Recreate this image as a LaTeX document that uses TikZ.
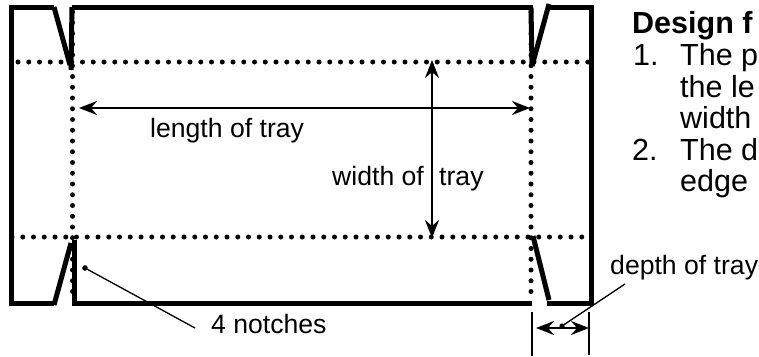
\documentclass[tikz,border=0pt]{standalone}
\usepackage{fontspec}
\setmainfont{Liberation Sans}
\usetikzlibrary{arrows.meta}
\tikzset{
  wall/.style={line width=5pt,line cap=butt,line join=miter},
  fold/.style={line width=5pt,line cap=round,dash pattern=on 0pt off 10.75pt},
  dim/.style={line width=2pt,{Stealth[length=18pt,width=14pt,inset=6pt]}-{Stealth[length=18pt,width=14pt,inset=6pt]}},
  lead/.style={line width=1.3pt},
  tick/.style={line width=1.5pt},
  lbl/.style={inner sep=0pt,font=\fontsize{26.6}{30}\selectfont,anchor=base west},
  head/.style={inner sep=0pt,font=\fontsize{30.5}{34}\selectfont,anchor=base west}
}
\begin{document}
\begin{tikzpicture}[x=1pt,y=-1pt]
\useasboundingbox (0,0) rectangle (759,356);
% coordinates
\coordinate (tl) at (11,7); \coordinate (tr) at (591,7);
\coordinate (bl) at (11,303); \coordinate (br) at (591,303);
\coordinate (n1a) at (54,7); \coordinate (n1b) at (70,65);
\coordinate (n1c) at (72,7); \coordinate (n1d) at (71,70);
\coordinate (n2a) at (533,7); \coordinate (n2b) at (548,7);
\coordinate (n2c) at (549,4); \coordinate (n2d) at (532,66);
\coordinate (n2e) at (531,8);
\coordinate (n3a) at (54,303); \coordinate (n3b) at (54,305); \coordinate (n3c) at (71,243);
\coordinate (n3d) at (74,303); \coordinate (n3e) at (74,240);
\coordinate (n4a) at (532,303); \coordinate (n4b) at (547,303);
\coordinate (n4c) at (549,300); \coordinate (n4d) at (533,236);
% walls
\draw[wall] (n1a) -- (tl) -- (bl) -- (n3a);
\draw[wall] (n1a) -- (n1b);
\draw[wall] (n1c) -- (n1d);
\draw[wall] (n1c) -- (n2a);
\draw[wall] (n2e) -- (n2d);
\draw[wall] (n2c) -- (n2d);
\draw[wall] (n2b) -- (tr) -- (br) -- (n4b);
\draw[wall] (n3b) -- (n3c);
\draw[wall] (n3e) -- (n3d) -- (n4a);
\draw[wall] (n4c) -- (n4d);
% fold lines
\coordinate (f1a) at (18,62); \coordinate (f1b) at (590,62);
\coordinate (f2a) at (12,237); \coordinate (f2b) at (590,237);
\coordinate (f3a) at (72.5,12); \coordinate (f3b) at (72.5,300);
\coordinate (f4a) at (531,12); \coordinate (f4b) at (531,300);
\draw[fold] (f1a) -- (f1b);
\draw[fold] (f2a) -- (f2b);
\draw[fold] (f3a) -- (f3b);
\draw[fold] (f4a) -- (f4b);
% dimensions
\coordinate (la) at (79,108); \coordinate (lb) at (530,108);
\coordinate (wa) at (432,60); \coordinate (wb) at (432,238);
\coordinate (da) at (536,328); \coordinate (db) at (589,328);
\draw[dim] (la) -- (lb);
\draw[dim] (wa) -- (wb);
\draw[dim] (da) -- (db);
\coordinate (t1a) at (532,312); \coordinate (t1b) at (532,356);
\coordinate (t2a) at (589,312); \coordinate (t2b) at (589,355);
\draw[tick] (t1a) -- (t1b);
\draw[tick] (t2a) -- (t2b);
% labels
\node[lbl] (ltray) at (150,137) {length of tray};
\node[lbl] (wof) at (332,185) {width of};
\node[lbl] (wtray) at (439,185) {tray};
\node[lbl] (notch) at (211,333) {4 notches};
\node[lbl] (depth) at (610,274) {depth of tray};
% leaders
\coordinate (l1a) at (85,268); \coordinate (l1b) at (195,328);
\coordinate (l2a) at (625,284); \coordinate (l2b) at (562,326);
\draw[lead] (l1a) -- (l1b);
\draw[lead] (l2a) -- (l2b);
\fill (l1a) circle (2.8pt);
\fill (l2b) circle (2.6pt);
% design text
\node[head,font=\fontsize{30.5}{34}\selectfont\bfseries] (h) at (632,33) {Design f};
\node[head] (n1) at (633,65) {1.};
\node[head] (p1) at (680,65) {The p};
\node[head] (p2) at (680,97) {the le};
\node[head] (p3) at (680,128) {width};
\node[head] (n2) at (632,160) {2.};
\node[head] (p4) at (680,160) {The d};
\node[head] (p5) at (680,191) {edge};
\end{tikzpicture}
\end{document}
